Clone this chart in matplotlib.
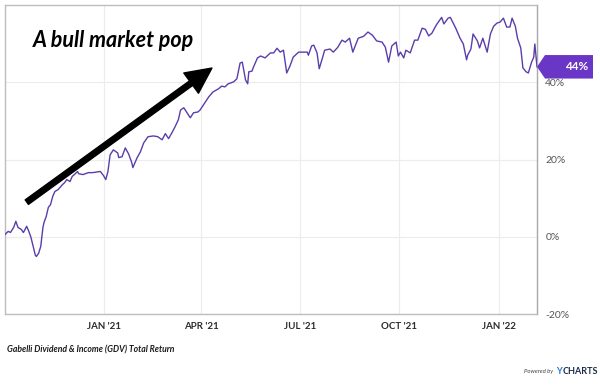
import matplotlib
matplotlib.use("Agg")
import matplotlib.pyplot as plt
import matplotlib.dates as mdates
from matplotlib.patches import Polygon
import pandas as pd

# ----------------------------
# Data (GDV total return, %)
# ----------------------------
dates = [
    "2020-10-02", "2020-10-05", "2020-10-07", "2020-10-10", "2020-10-12", "2020-10-14",
    "2020-10-17", "2020-10-19", "2020-10-22", "2020-10-24", "2020-10-26", "2020-10-28",
    "2020-10-30", "2020-10-31", "2020-11-02", "2020-11-04", "2020-11-06", "2020-11-07",
    "2020-11-09", "2020-11-11", "2020-11-13", "2020-11-15", "2020-11-17", "2020-11-20",
    "2020-11-24", "2020-11-26", "2020-11-28", "2020-12-01", "2020-12-03", "2020-12-05",
    "2020-12-08", "2020-12-09", "2020-12-13", "2020-12-18", "2020-12-22", "2020-12-29",
    "2021-01-01", "2021-01-03", "2021-01-05", "2021-01-07", "2021-01-10", "2021-01-14",
    "2021-01-15", "2021-01-18", "2021-01-21", "2021-01-24", "2021-01-27", "2021-01-28",
    "2021-02-01", "2021-02-04", "2021-02-07", "2021-02-11", "2021-02-16", "2021-02-20",
    "2021-02-24", "2021-02-27", "2021-03-02", "2021-03-05", "2021-03-08", "2021-03-11",
    "2021-03-13", "2021-03-16", "2021-03-19", "2021-03-22", "2021-03-25", "2021-03-29",
    "2021-03-31", "2021-04-05", "2021-04-08", "2021-04-12", "2021-04-17", "2021-04-20",
    "2021-04-23", "2021-04-26", "2021-05-01", "2021-05-04", "2021-05-07", "2021-05-09",
    "2021-05-12", "2021-05-14", "2021-05-15", "2021-05-18", "2021-05-19", "2021-05-23",
    "2021-05-26", "2021-05-30", "2021-06-04", "2021-06-07", "2021-06-10", "2021-06-13",
    "2021-06-16", "2021-06-19", "2021-06-22", "2021-06-25", "2021-06-30", "2021-07-04",
    "2021-07-08", "2021-07-09", "2021-07-12", "2021-07-14", "2021-07-17", "2021-07-19",
    "2021-07-22", "2021-07-24", "2021-07-29", "2021-08-01", "2021-08-05", "2021-08-09",
    "2021-08-12", "2021-08-16", "2021-08-19", "2021-08-24", "2021-08-29", "2021-09-02",
    "2021-09-06", "2021-09-10", "2021-09-15", "2021-09-18", "2021-09-21", "2021-09-24",
    "2021-09-28", "2021-09-30", "2021-10-02", "2021-10-05", "2021-10-07", "2021-10-11",
    "2021-10-15", "2021-10-18", "2021-10-22", "2021-10-25", "2021-10-28", "2021-10-31",
    "2021-11-04", "2021-11-09", "2021-11-11", "2021-11-15", "2021-11-17", "2021-11-20",
    "2021-11-22", "2021-11-26", "2021-11-29", "2021-12-02", "2021-12-03", "2021-12-06",
    "2021-12-08", "2021-12-12", "2021-12-14", "2021-12-17", "2021-12-21", "2021-12-24",
    "2021-12-27", "2021-12-30", "2022-01-02", "2022-01-05", "2022-01-08", "2022-01-11",
    "2022-01-13", "2022-01-16", "2022-01-18", "2022-01-21", "2022-01-23", "2022-01-26",
    "2022-01-28", "2022-01-31", "2022-02-02", "2022-02-03", "2022-02-05",
]
returns = [
    0.6, 1.4, 1.1, 2.4, 4.0, 2.4,
    1.9, 1.1, 2.7, 1.4, -0.2, -2.5,
    -4.8, -5.1, -4.3, -2.5, 2.4, 3.7,
    5.2, 7.6, 8.3, 10.4, 11.7, 12.2,
    13.5, 14.0, 14.8, 14.3, 15.6, 16.1,
    16.9, 16.3, 16.1, 16.6, 16.6, 16.9,
    15.8, 14.8, 16.9, 21.2, 22.5, 21.7,
    20.5, 20.7, 23.0, 21.5, 19.2, 17.9,
    20.5, 22.0, 24.3, 25.9, 26.1, 25.9,
    25.1, 26.7, 25.4, 26.9, 28.5, 30.3,
    32.8, 33.4, 32.1, 30.8, 32.1, 32.3,
    32.8, 34.9, 36.2, 37.5, 38.3, 39.0,
    38.8, 39.6, 40.1, 40.9, 45.0, 45.2,
    40.6, 39.6, 42.7, 42.9, 43.7, 46.3,
    46.8, 46.3, 47.6, 47.6, 48.8, 47.8,
    48.3, 42.4, 44.2, 46.5, 47.8, 47.8,
    47.8, 47.0, 49.4, 49.6, 47.6, 43.5,
    46.3, 48.3, 48.6, 47.8, 49.0, 50.9,
    50.4, 51.4, 47.8, 51.4, 51.9, 53.0,
    52.2, 50.7, 50.4, 49.1, 45.2, 49.4,
    50.4, 46.8, 47.8, 46.3, 48.3, 47.6,
    50.9, 50.9, 54.0, 53.7, 52.0, 52.7,
    54.8, 56.8, 55.1, 56.6, 56.8, 55.1,
    54.0, 51.4, 49.9, 45.8, 47.0, 48.6,
    52.5, 50.7, 48.9, 51.4, 47.8, 52.5,
    54.5, 55.3, 55.6, 56.6, 54.3, 54.3,
    56.6, 54.5, 51.4, 48.9, 43.7, 42.7,
    42.4, 45.2, 46.5, 49.9, 44.0,
]
y_ticks = [-20, 0, 20, 40]
x_tick_dates = ["2021-01-01", "2021-04-01", "2021-07-01", "2021-10-01", "2022-01-01"]
x_tick_labels = ["JAN '21", "APR '21", "JUL '21", "OCT '21", "JAN '22"]
last_label = "44%"
series_name = "Gabelli Dividend & Income (GDV) Total Return"
note = "A bull market pop"

line_color = "#5b3daa"
badge_color = "#6a36c6"

plt.rcParams['font.family'] = ['Lato', 'DejaVu Sans']

dt = pd.to_datetime(dates)

fig = plt.figure(figsize=(6.0, 3.85), dpi=100)
ax = fig.add_axes([5 / 600, 71 / 385, 532 / 600, 309 / 385])

ax.plot(dt, returns, color=line_color, linewidth=1.0, zorder=3)

ax.set_xlim(pd.Timestamp("2020-10-02"), pd.Timestamp("2022-02-05"))
ax.set_ylim(-20, 60)

# grid + ticks
ax.set_xticks(pd.to_datetime(x_tick_dates))
ax.set_xticklabels(x_tick_labels, fontsize=7, fontweight='bold', color='#2b2b2b')
ax.set_yticks(y_ticks)
ax.set_yticklabels([f"{v}%" for v in y_ticks], fontsize=7.5, color='#555555')
ax.yaxis.tick_right()
ax.tick_params(axis='both', length=0)
ax.tick_params(axis='y', pad=6)
ax.tick_params(axis='x', pad=6)
ax.grid(True, color='#ececec', linewidth=0.8, zorder=0)
ax.set_axisbelow(True)
for side in ['left', 'top', 'bottom', 'right']:
    ax.spines[side].set_color('#bdbdbd')
    ax.spines[side].set_linewidth(1.0)
ax.spines['right'].set_color('#a8a8a8')

# last value badge
last_y = returns[-1]
tip = ax.transData.transform((mdates.date2num(dt[-1]), last_y))
tip = fig.transFigure.inverted().transform(tip)
w, h, notch = 56 / 600, 23.5 / 385, 8 / 600
badge = Polygon([
    (tip[0], tip[1]),
    (tip[0] + notch, tip[1] + h / 2),
    (tip[0] + w, tip[1] + h / 2),
    (tip[0] + w, tip[1] - h / 2),
    (tip[0] + notch, tip[1] - h / 2),
], closed=True, transform=fig.transFigure, facecolor=badge_color,
    edgecolor='none', zorder=10)
fig.patches.append(badge)
fig.text(tip[0] + w - 5 / 600, tip[1], last_label, color='white', fontsize=8.5,
         fontweight='bold', ha='right', va='center', zorder=11)

# annotation: arrow + text
ax.annotate('', xy=(0.389, 0.796), xytext=(0.041, 0.362), xycoords='axes fraction',
            arrowprops=dict(arrowstyle='simple,head_length=1.85,head_width=1.8,tail_width=0.4',
                            color='black', shrinkA=0, shrinkB=0), zorder=5)
ax.text(0.052, 0.885, note, transform=ax.transAxes, fontsize=15.5,
        fontweight='bold', fontstyle='italic', color='black', va='center', ha='left')

# footer
fig.text(7 / 600, 1 - 350 / 385, series_name, fontsize=6.2, fontweight='bold',
         fontstyle='italic', color='#1a1a1a', va='center', ha='left')
fig.text(553 / 600, 1 - 372 / 385, "Powered by", fontsize=4.3, fontstyle='italic',
         color='#444444', va='center', ha='right')
fig.text(556 / 600, 1 - 372 / 385, "Y", fontsize=6.5, fontweight='bold',
         color='#1f78d1', va='center', ha='left')
fig.text(562.5 / 600, 1 - 372 / 385, "CHARTS", fontsize=6.5, fontweight='bold',
         color='#1c2b4a', va='center', ha='left')

fig.savefig("out.png", dpi=100)
